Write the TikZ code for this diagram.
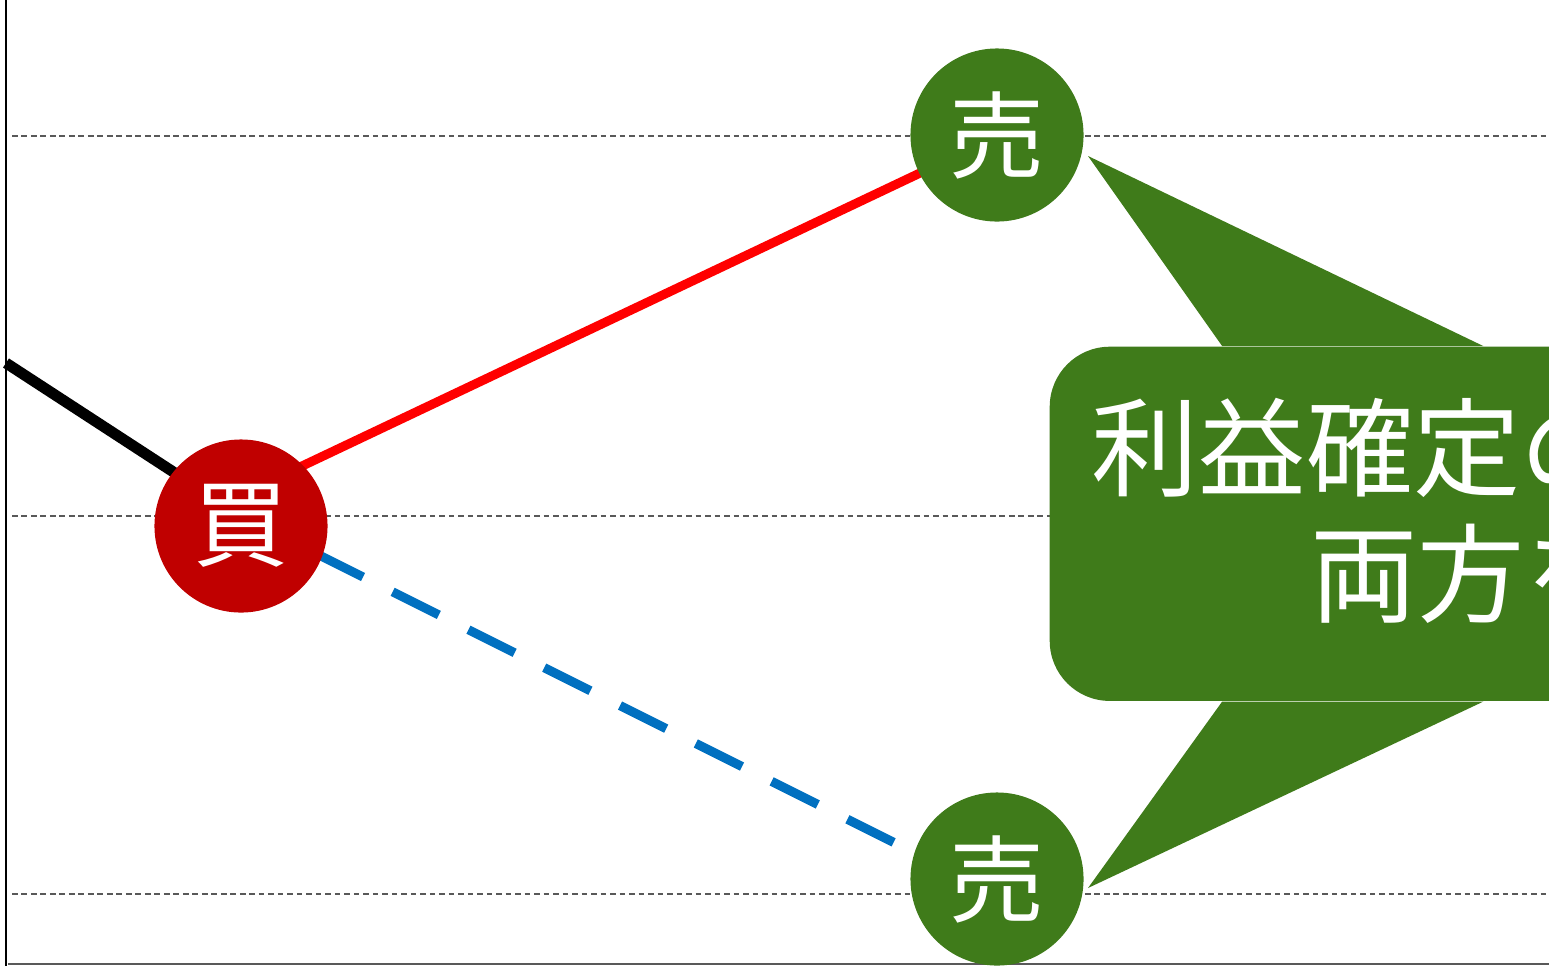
\documentclass[tikz,border=0pt]{standalone}
\usepackage{fontspec}
\setmainfont{Noto Sans CJK JP}
\usetikzlibrary{positioning,backgrounds}
\definecolor{buyred}{RGB}{192,0,0}
\definecolor{sellgreen}{RGB}{63,123,26}
\definecolor{lineblue}{RGB}{0,112,192}
\definecolor{gridgray}{RGB}{89,89,89}

\begin{document}
\begin{tikzpicture}[
    x=0.01cm,
    y=-0.01cm,
    grid/.style={
		draw=gridgray,
		line width=0.4pt,
		dash pattern=on 1.6pt off 1.1pt
	},
	trade/.style={
		circle,
		minimum size=1.73cm,
		inner sep=0pt,
		text=white,
		font=\fontsize{27}{27}\selectfont
	},
	bubble/.style={
		rectangle,
		rounded corners=0.6cm,
		fill=sellgreen,
		inner sep=0pt
	},
	notetext/.style={
		inner sep=0pt,
		text=white,
		font=\fontsize{30.5}{30.5}\selectfont
	}
  ]
  \useasboundingbox (0,0) rectangle (1549,966);
  \clip (0,0) rectangle (1549,966);

  % We start by placing the trade points
  \coordinate (start) at (6,363);
  \node [trade, fill=buyred] (buy) at (241,526) {買};
  \node [trade, fill=sellgreen] (selltop) at (997,135) {売};
  \node [trade, fill=sellgreen] (sellbot) at (997,879) {売};

  \begin{scope}[on background layer]
  % grid and axes
  \draw [grid] (12,136) -- (1549,136);
  \draw [grid] (12,516) -- (1549,516);
  \draw [grid] (12,894) -- (1549,894);
  \draw [black, line width=0.5pt] (6,0) -- (6,966);
  \draw [gridgray, line width=0.6pt] (8,964) -- (1549,964);

  % price paths
  \draw [black, line width=3.1pt] (start) -- ([yshift=0.1cm]buy.center);
  \draw [red, line width=2.6pt] ([yshift=0.31cm]buy.center) -- ([yshift=-0.015cm]selltop.center);
  \draw [lineblue, line width=2.6pt, dash pattern=on 14.7pt off 9.4pt] ([yshift=0.1cm]buy.center) -- ([yshift=-0.15cm]sellbot.center);
  \end{scope}

  % the callout
  \node [bubble, anchor=north west, minimum width=6cm, minimum height=3.54cm] (note) at (1049,346) {};
  \coordinate (tiptop) at (1088,156);
  \coordinate (tipbot) at (1088,888);
  \fill [sellgreen] (tiptop) -- ([xshift=1.73cm]note.north west) -- ([xshift=4.34cm]note.north west) -- cycle;
  \fill [sellgreen] (tipbot) -- ([xshift=1.73cm]note.south west) -- ([xshift=4.34cm]note.south west) -- cycle;
  \node [notetext, anchor=base west] (line1) at (1091,488) {利益確定の};
  \node [notetext, anchor=base west] (line2) at (1310,614) {両方を};

\end{tikzpicture}
\end{document}
